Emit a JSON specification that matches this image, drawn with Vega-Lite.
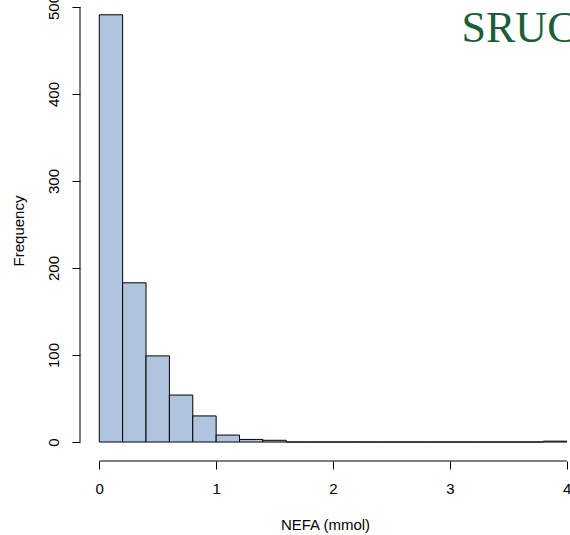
{
  "$schema": "https://vega.github.io/schema/vega-lite/v6.json",
  "autosize": "none",
  "width": 490,
  "height": 461,
  "padding": {"left": 80, "top": 0, "right": 0, "bottom": 74},
  "background": "white",
  "config": {
    "view": {"stroke": null},
    "font": "Liberation Sans",
    "axis": {"grid": false}
  },
  "datasets": {
    "bins": [
      {"start": 0.0, "end": 0.2, "count": 491, "base": 0},
      {"start": 0.2, "end": 0.4, "count": 183, "base": 0},
      {"start": 0.4, "end": 0.6, "count": 99, "base": 0},
      {"start": 0.6, "end": 0.8, "count": 54, "base": 0},
      {"start": 0.8, "end": 1.0, "count": 30, "base": 0},
      {"start": 1.0, "end": 1.2, "count": 8, "base": 0},
      {"start": 1.2, "end": 1.4, "count": 3, "base": 0},
      {"start": 1.4, "end": 1.6, "count": 2, "base": 0},
      {"start": 1.6, "end": 1.8, "count": 0, "base": 0},
      {"start": 1.8, "end": 2.0, "count": 0, "base": 0},
      {"start": 2.0, "end": 2.2, "count": 0, "base": 0},
      {"start": 2.2, "end": 2.4, "count": 0, "base": 0},
      {"start": 2.4, "end": 2.6, "count": 0, "base": 0},
      {"start": 2.6, "end": 2.8, "count": 0, "base": 0},
      {"start": 2.8, "end": 3.0, "count": 0, "base": 0},
      {"start": 3.0, "end": 3.2, "count": 0, "base": 0},
      {"start": 3.2, "end": 3.4, "count": 0, "base": 0},
      {"start": 3.4, "end": 3.6, "count": 0, "base": 0},
      {"start": 3.6, "end": 3.8, "count": 0, "base": 0},
      {"start": 3.8, "end": 4.0, "count": 1, "base": 0}
    ]
  },
  "layer": [
    {
      "data": {"name": "bins"},
      "mark": {"type": "rect", "fill": "#B0C4DE", "stroke": "black", "strokeWidth": 1},
      "encoding": {
        "x": {
          "field": "start", "type": "quantitative",
          "scale": {"domain": [-0.165, 4.028], "nice": false, "zero": false},
          "axis": {
            "values": [0, 1, 2, 3, 4], "format": "d", "domain": false, "tickColor": "black", "tickSize": 8,
            "labelFontSize": 15, "labelColor": "black", "labelPadding": 12, "labelFlush": false,
            "labelOverlap": false,
            "title": "NEFA (mmol)", "titleFontSize": 15, "titleFontWeight": "normal",
            "titleColor": "black", "titlePadding": 21
          }
        },
        "x2": {"field": "end"},
        "y": {
          "field": "count", "type": "quantitative",
          "scale": {"domain": [-21.8, 508], "nice": false, "zero": false},
          "axis": {
            "values": [0, 100, 200, 300, 400, 500], "format": "d", "domain": false, "tickColor": "black", "tickSize": 8,
            "labelAngle": 270, "labelAlign": "center", "labelBaseline": "bottom",
            "labelFontSize": 15, "labelColor": "black", "labelPadding": 11, "labelFlush": false,
            "labelOverlap": false,
            "title": "Frequency", "titleFontSize": 15, "titleFontWeight": "normal",
            "titleColor": "black", "titlePadding": 20
          }
        },
        "y2": {"field": "base"}
      }
    },
    {
      "data": {"values": [{"a": 0, "b": 4, "y": -21.8}]},
      "mark": {"type": "rule", "color": "black", "strokeWidth": 1},
      "encoding": {
        "x": {"field": "a", "type": "quantitative"},
        "x2": {"field": "b"},
        "y": {"field": "y", "type": "quantitative"}
      }
    },
    {
      "data": {"values": [{"a": 0, "b": 500, "x": -0.165}]},
      "mark": {"type": "rule", "color": "black", "strokeWidth": 1},
      "encoding": {
        "y": {"field": "a", "type": "quantitative"},
        "y2": {"field": "b"},
        "x": {"field": "x", "type": "quantitative"}
      }
    },
    {
      "data": {"values": [{"label": "SRUC", "x": 3.10, "y": 460}]},
      "mark": {"type": "text", "font": "Liberation Serif", "fontSize": 44, "color": "#1B5E36", "align": "left", "baseline": "alphabetic"},
      "encoding": {
        "x": {"field": "x", "type": "quantitative"},
        "y": {"field": "y", "type": "quantitative"},
        "text": {"field": "label"}
      }
    }
  ]
}
